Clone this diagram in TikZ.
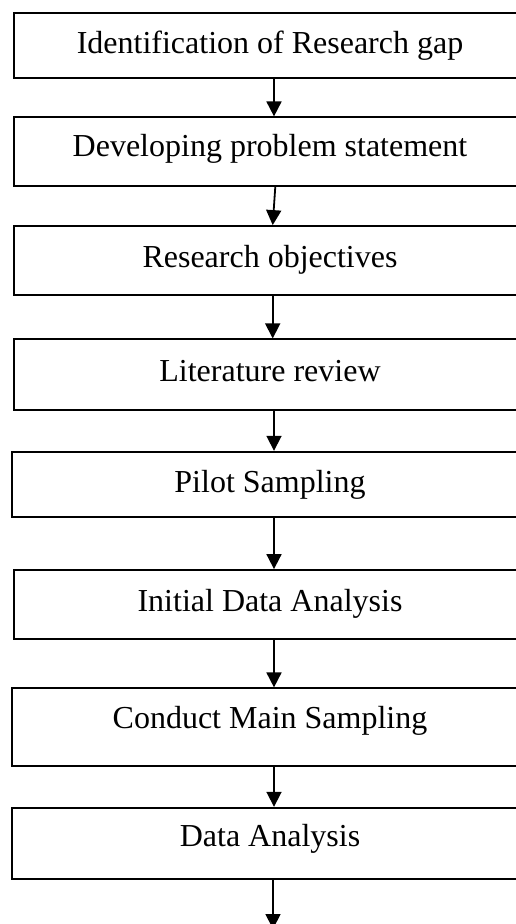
\documentclass[tikz,border=0pt]{standalone}
\usepackage{fontspec}
\setmainfont{Liberation Serif}
\usetikzlibrary{arrows.meta}
\begin{document}
\begin{tikzpicture}[x=1pt,y=-1pt]
\tikzset{
  box/.style={draw, line width=1.8pt, inner sep=0pt, anchor=base, align=center,
    font=\fontsize{32}{38}\selectfont},
  arr/.style={line width=1.8pt, -{Triangle[width=15pt,length=15pt]}}
}
\useasboundingbox (0,0) rectangle (516,924);
\clip (0,0) rectangle (516,924);
% boxes: at (270, baseline), width = 2*(270-left), height split by baseline
\node[box, minimum width=512.6pt, text height=40.3pt, text depth=25pt] (b1) at (270,53) {Identification of Research gap};
\node[box, minimum width=512.6pt, text height=39.4pt, text depth=29pt] (b2) at (270,156.7) {Developing problem statement};
\node[box, minimum width=512.6pt, text height=41.3pt, text depth=27.7pt] (b3) at (270,267.3) {Research objectives};
\node[box, minimum width=512.6pt, text height=41.7pt, text depth=29pt] (b4) at (270,381) {Literature review};
\node[box, minimum width=516.6pt, text height=41pt, text depth=24.6pt] (b5) at (270,492.7) {Pilot Sampling};
\node[box, minimum width=512.6pt, text height=41.7pt, text depth=27pt] (b6) at (270,611.7) {Initial Data Analysis};
\node[box, minimum width=516.6pt, text height=40pt, text depth=37.7pt] (b7) at (270,728.3) {Conduct Main Sampling};
\node[box, minimum width=516.6pt, text height=39pt, text depth=32.3pt] (b8) at (270,846.7) {Data Analysis};
% arrow columns
\coordinate (ax) at (274,0);
\coordinate (ax2) at (275.3,0);
\coordinate (ax3) at (272.7,0);
\coordinate (endpt) at (273,929);
\draw[arr] (b1.south -| ax) -- (b2.north -| ax);
\draw[arr] (b2.south -| ax2) -- (b3.north -| ax3);
\draw[arr] (b3.south -| ax3) -- (b4.north -| ax3);
\draw[arr] (b4.south -| ax) -- (b5.north -| ax);
\draw[arr] (b5.south -| ax) -- (b6.north -| ax);
\draw[arr] (b6.south -| ax) -- (b7.north -| ax);
\draw[arr] (b7.south -| ax) -- (b8.north -| ax);
\draw[arr] (b8.south -| endpt) -- (endpt);
\end{tikzpicture}
\end{document}
